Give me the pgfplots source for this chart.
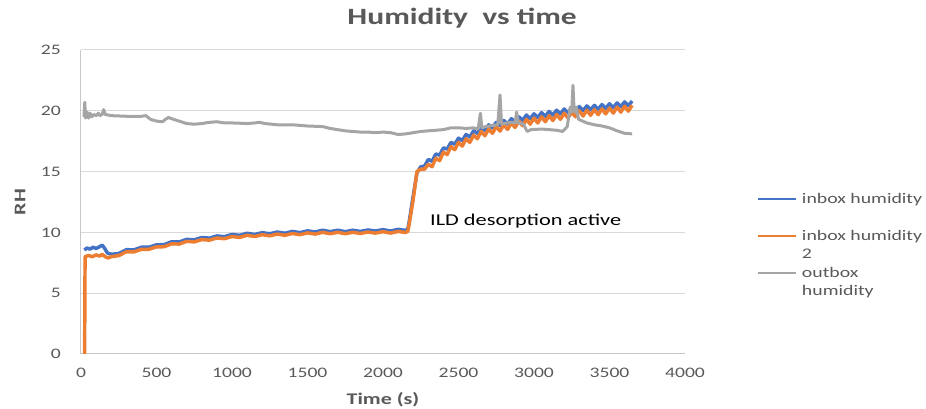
\documentclass[border=0pt]{standalone}
\usepackage{pgfplots}
\pgfplotsset{compat=1.18}
\usepackage{fontspec}
\setmainfont{Carlito}[FakeStretch=1.35]
\definecolor{cblue}{HTML}{4472C4}
\definecolor{corange}{HTML}{ED7D31}
\definecolor{cgrey}{HTML}{A5A5A5}
\definecolor{gridgray}{HTML}{D9D9D9}
\definecolor{axisgray}{HTML}{C8C8C8}
\definecolor{labgray}{HTML}{595959}
\begin{document}
\begin{tikzpicture}
\path[use as bounding box] (-60.75pt,-41.25pt) rectangle (633.75pt,265.5pt);
\begin{axis}[
  at={(0pt,0pt)}, anchor=south west,
  width=453pt, height=228pt, scale only axis,
  xmin=0, xmax=4000, ymin=0, ymax=25,
  xtick={0,500,...,4000}, ytick={0,5,...,25},
  axis lines=left, axis line style={-, draw=axisgray, line width=0.75pt},
  major tick length=0pt,
  ymajorgrids, grid style={draw=gridgray, line width=0.75pt},
  /pgf/number format/assume math mode=true,
  /pgf/number format/1000 sep={},
  tick label style={font=\fontsize{10.9}{13}\selectfont, text=labgray, inner sep=0pt},
  xticklabel style={anchor=base, yshift=-18pt},
  yticklabel style={anchor=east, xshift=-15pt},
  title={Humidity\ \ vs time},
  title style={at={(axis description cs:0.631,1.056)}, anchor=base, font=\fontsize{17.5}{21}\selectfont\bfseries, text=labgray},
  xlabel={Time (s)}, ylabel={RH},
  xlabel style={at={(axis description cs:0.5,-0.1645)}, anchor=base, font=\fontsize{12.2}{14}\selectfont\bfseries, text=labgray},
  ylabel style={at={(axis description cs:-0.101,0.5)}, anchor=center, font=\fontsize{12.2}{14}\selectfont\bfseries, text=labgray},
  legend cell align=left,
  legend style={at={(axis description cs:1.1192,0.539)}, anchor=north west, draw=none, fill=none,
    inner sep=0pt, outer sep=0pt, font=\fontsize{11}{14}\selectfont, text=labgray,
    cells={align=left, anchor=base west}, nodes={inner sep=0pt, anchor=base west},
    row sep=2.4pt, column sep=3.75pt},
  legend image code/.code={\draw[#1, line width=1.5pt] (0pt,17pt) -- (28.5pt,17pt);},
  every axis plot/.append style={line width=2.6pt, line join=round, mark=none},
]
\addplot[cblue] coordinates {
(22,8.55) (40,8.72) (60,8.62) (80,8.78) (100,8.68) (120,8.8) (140,8.95) (155,8.72) (175,8.3) (200,8.2)
(250,8.26) (300,8.58) (350,8.56) (400,8.78) (450,8.78) (500,8.98) (550,8.99) (600,9.23) (650,9.21) (700,9.43)
(750,9.39) (800,9.58) (850,9.53) (900,9.71) (950,9.65) (1000,9.83) (1050,9.76) (1100,9.93) (1150,9.83) (1200,9.98)
(1250,9.89) (1300,10.03) (1350,9.93) (1400,10.08) (1450,9.98) (1500,10.13) (1550,10.03) (1600,10.18) (1650,10.06) (1700,10.18)
(1750,10.06) (1800,10.18) (1850,10.08) (1900,10.2) (1950,10.11) (2000,10.23) (2050,10.11) (2100,10.25) (2150,10.16) (2165,10.3)
(2175,11.0) (2200,13.0) (2225,14.9) (2250,15.4) (2275,15.45) (2300,16.0) (2325,15.85) (2350,16.45) (2375,16.35) (2400,16.95)
(2425,16.85) (2450,17.4) (2475,17.25) (2500,17.75) (2525,17.55) (2550,18.05) (2575,17.85) (2600,18.35) (2625,18.15) (2650,18.65)
(2675,18.4) (2700,18.85) (2725,18.6) (2750,19.05) (2775,18.78) (2800,19.2) (2825,18.92) (2850,19.35) (2875,19.08) (2900,19.5)
(2925,19.22) (2950,19.65) (2975,19.35) (3000,19.75) (3025,19.45) (3050,19.85) (3075,19.55) (3100,19.95) (3125,19.65) (3150,20.05)
(3175,19.75) (3200,20.15) (3225,19.85) (3250,20.25) (3275,19.95) (3300,20.35) (3325,20.02) (3350,20.4) (3375,20.08) (3400,20.45)
(3425,20.13) (3450,20.51) (3475,20.2) (3500,20.58) (3525,20.26) (3550,20.65) (3575,20.34) (3600,20.73) (3625,20.42) (3650,20.8)
};
\addlegendentry{inbox humidity\strut\\\mbox{}\strut}
\addplot[corange] coordinates {
(24,0) (27,8.0) (50,8.1) (75,8.0) (100,8.15) (125,8.05) (140,8.2) (160,8.0) (180,7.9) (200,8.0)
(250,8.09) (300,8.41) (350,8.39) (400,8.61) (450,8.61) (500,8.81) (550,8.82) (600,9.06) (650,9.04) (700,9.26)
(750,9.22) (800,9.41) (850,9.36) (900,9.54) (950,9.48) (1000,9.66) (1050,9.59) (1100,9.76) (1150,9.66) (1200,9.81)
(1250,9.72) (1300,9.86) (1350,9.76) (1400,9.91) (1450,9.81) (1500,9.96) (1550,9.86) (1600,10.01) (1650,9.89) (1700,10.01)
(1750,9.89) (1800,10.01) (1850,9.91) (1900,10.03) (1950,9.94) (2000,10.06) (2050,9.94) (2100,10.08) (2150,9.99) (2165,10.1)
(2175,10.8) (2200,12.7) (2225,15.0) (2250,15.2) (2275,15.2) (2300,15.6) (2325,15.4) (2350,16.1) (2375,15.9) (2400,16.6)
(2425,16.4) (2450,17.05) (2475,16.8) (2500,17.4) (2525,17.1) (2550,17.7) (2575,17.4) (2600,18.0) (2625,17.7) (2650,18.3)
(2675,17.95) (2700,18.5) (2725,18.15) (2750,18.7) (2775,18.33) (2800,18.85) (2825,18.47) (2850,19.0) (2875,18.63) (2900,19.15)
(2925,18.77) (2950,19.3) (2975,18.9) (3000,19.4) (3025,19.0) (3050,19.5) (3075,19.1) (3100,19.6) (3125,19.2) (3150,19.7)
(3175,19.3) (3200,19.8) (3225,19.4) (3250,19.9) (3275,19.5) (3300,20.0) (3325,19.57) (3350,20.05) (3375,19.63) (3400,20.1)
(3425,19.68) (3450,20.16) (3475,19.75) (3500,20.23) (3525,19.81) (3550,20.3) (3575,19.89) (3600,20.38) (3625,19.97) (3650,20.45)
};
\addlegendentry{inbox humidity\strut\\2\strut}
\addplot[cgrey, line width=2.25pt] coordinates {
(20,19.5) (25,20.7) (30,19.4) (40,19.9) (50,19.4) (60,19.8) (70,19.5) (85,19.7) (100,19.6) (115,19.8)
(125,19.6) (140,19.7) (150,20.1) (160,19.7) (200,19.6) (300,19.55) (400,19.55) (430,19.6) (460,19.3) (500,19.15)
(540,19.1) (560,19.3) (580,19.45) (600,19.35) (650,19.15) (700,18.95) (750,18.9) (800,18.95) (850,19.05) (900,19.1)
(950,19.0) (1000,19.0) (1050,18.98) (1100,18.95) (1150,19.0) (1180,19.05) (1220,18.95) (1300,18.85) (1400,18.85) (1500,18.75)
(1600,18.7) (1650,18.55) (1700,18.45) (1750,18.35) (1800,18.3) (1850,18.25) (1900,18.25) (1950,18.2) (2000,18.25) (2050,18.2)
(2100,18.05) (2150,18.1) (2200,18.2) (2250,18.3) (2300,18.35) (2350,18.4) (2400,18.45) (2450,18.6) (2500,18.6) (2550,18.55)
(2600,18.6) (2630,18.5) (2645,19.8) (2655,18.6) (2680,18.7) (2700,18.75) (2730,18.8) (2760,18.85) (2775,21.3) (2785,18.9)
(2820,19.0) (2850,19.05) (2875,19.0) (2885,19.9) (2895,19.0) (2930,18.9) (2955,18.3) (2980,18.45) (3050,18.5) (3100,18.45)
(3150,18.4) (3190,18.3) (3220,18.7) (3240,20.3) (3250,19.9) (3258,22.1) (3266,19.9) (3280,20.3) (3295,19.3) (3350,19.0)
(3400,18.85) (3450,18.75) (3500,18.6) (3550,18.35) (3600,18.15) (3650,18.1)
};
\addlegendentry{outbox\strut\\humidity\strut}
\node[anchor=base west, font=\fontsize{12.4}{14}\selectfont, text=black, inner sep=0pt] at (axis cs:2311,10.6) {ILD desorption active};
\end{axis}
\end{tikzpicture}
\end{document}
